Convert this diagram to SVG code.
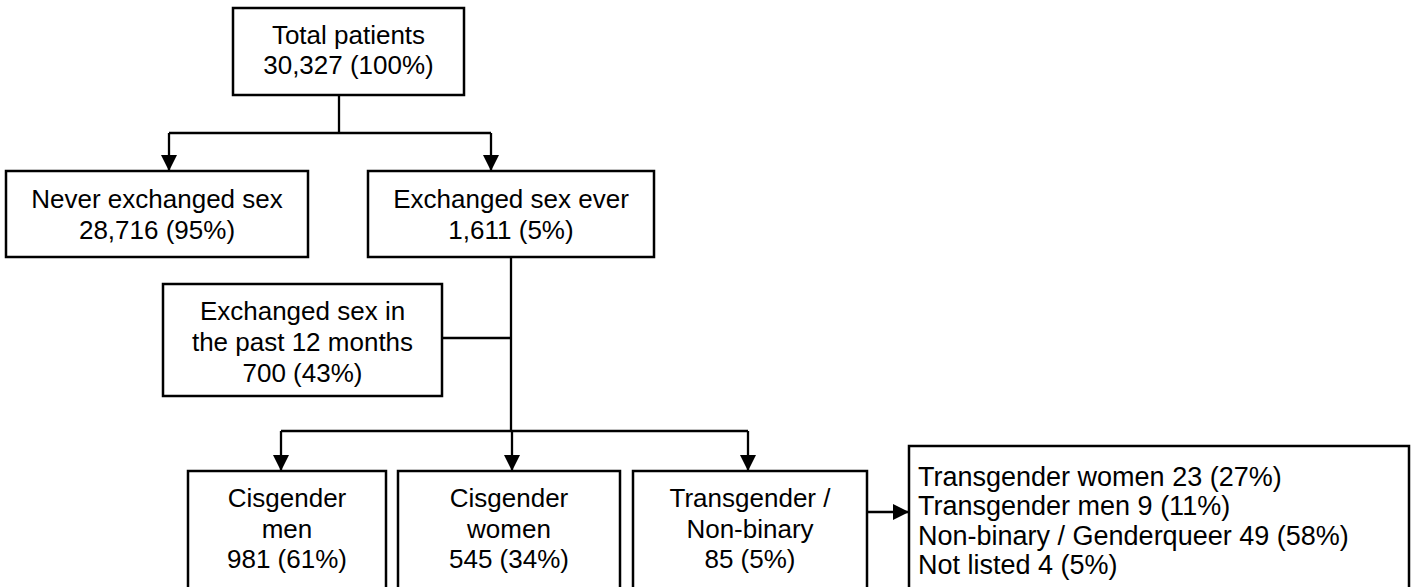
<svg xmlns="http://www.w3.org/2000/svg" width="1417" height="587" viewBox="0 0 1417 587">
<style>
  .box { fill: #ffffff; stroke: #000000; stroke-width: 2.5; }
  .ln { fill: none; stroke: #000000; stroke-width: 2.3; }
  text { font-family: "Liberation Sans", Arial, sans-serif; font-size: 26px; fill: #000000; }
  .c { text-anchor: middle; }
  .list { font-size: 27px; }
</style>
<defs>
  <marker id="ah" markerUnits="userSpaceOnUse" markerWidth="16" markerHeight="16" viewBox="0 0 16 16" refX="16" refY="8" orient="auto">
    <path d="M0,0 L16,8 L0,16 Z" fill="#000000"/>
  </marker>
</defs>
<rect width="1417" height="587" fill="#ffffff"/>
<g id="connectors">
  <path class="ln" d="M339,95 V133"/>
  <path class="ln" d="M169,133 H491"/>
  <path class="ln" d="M169,133 V171" marker-end="url(#ah)"/>
  <path class="ln" d="M491,133 V171" marker-end="url(#ah)"/>
  <path class="ln" d="M511,257 V431"/>
  <path class="ln" d="M442,338 H511"/>
  <path class="ln" d="M281,431 H748"/>
  <path class="ln" d="M281,431 V471" marker-end="url(#ah)"/>
  <path class="ln" d="M512,431 V471" marker-end="url(#ah)"/>
  <path class="ln" d="M748,431 V471" marker-end="url(#ah)"/>
  <path class="ln" d="M867,512 H909" marker-end="url(#ah)"/>
</g>
<g id="total">
  <rect class="box" x="233" y="8" width="231" height="87"/>
  <text class="c" x="348.5" y="44">Total patients</text>
  <text class="c" x="348.5" y="74">30,327 (100%)</text>
</g>
<g id="never">
  <rect class="box" x="6" y="171" width="302" height="86"/>
  <text class="c" x="157" y="208">Never exchanged sex</text>
  <text class="c" x="157" y="239">28,716 (95%)</text>
</g>
<g id="ever">
  <rect class="box" x="368" y="171" width="286" height="86"/>
  <text class="c" x="511" y="208">Exchanged sex ever</text>
  <text class="c" x="511" y="239">1,611 (5%)</text>
</g>
<g id="past12">
  <rect class="box" x="163" y="284" width="279" height="112"/>
  <text class="c" x="302.5" y="320">Exchanged sex in</text>
  <text class="c" x="302.5" y="351">the past 12 months</text>
  <text class="c" x="302.5" y="382">700 (43%)</text>
</g>
<g id="cismen">
  <rect class="box" x="188" y="471" width="198" height="118"/>
  <text class="c" x="287" y="507">Cisgender</text>
  <text class="c" x="287" y="538">men</text>
  <text class="c" x="287" y="568">981 (61%)</text>
</g>
<g id="ciswomen">
  <rect class="box" x="398" y="471" width="222" height="118"/>
  <text class="c" x="509" y="507">Cisgender</text>
  <text class="c" x="509" y="538">women</text>
  <text class="c" x="509" y="568">545 (34%)</text>
</g>
<g id="trans">
  <rect class="box" x="633" y="471" width="234" height="118"/>
  <text class="c" x="750" y="507">Transgender /</text>
  <text class="c" x="750" y="538">Non-binary</text>
  <text class="c" x="750" y="568">85 (5%)</text>
</g>
<g id="breakdown">
  <rect class="box" x="909" y="446" width="500" height="143"/>
  <text class="list" x="918" y="486">Transgender women 23 (27%)</text>
  <text class="list" x="918" y="515">Transgender men 9 (11%)</text>
  <text class="list" x="918" y="545">Non-binary / Genderqueer 49 (58%)</text>
  <text class="list" x="918" y="574">Not listed 4 (5%)</text>
</g>
</svg>
